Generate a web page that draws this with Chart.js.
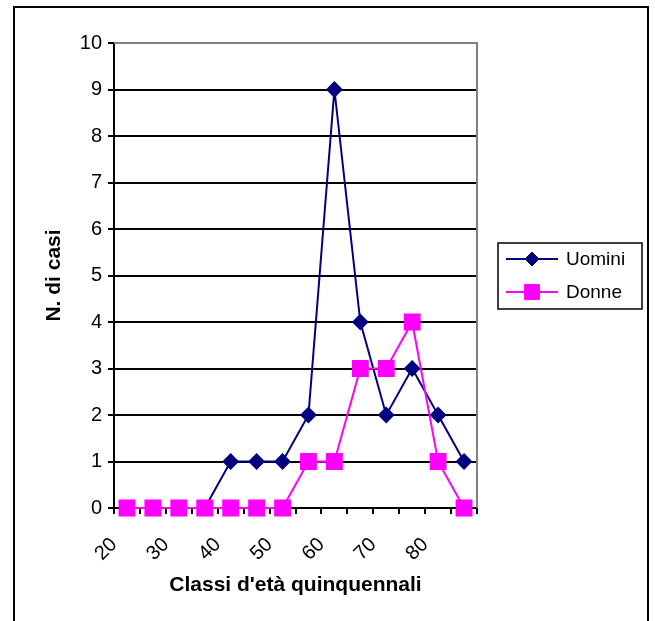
<!DOCTYPE html>
<html>
<head>
<meta charset="utf-8">
<script src="https://cdn.jsdelivr.net/npm/chart.js@4/dist/chart.umd.min.js"></script>
<style>
body{margin:0;background:#fff;}
canvas{display:block;}
</style>
</head>
<body>
<canvas id="chart" width="655" height="621"></canvas>
<script>
/* Data */

const classi=[22.5,27.5,32.5,37.5,42.5,47.5,52.5,57.5,62.5,67.5,72.5,77.5,82.5,87.5];

const uomini=[0,0,0,0,1,1,1,2,9,4,2,3,2,1];

const donne=[0,0,0,0,0,0,0,1,1,3,3,4,1,0];

const xLabels=[20,30,40,50,60,70,80];

const FONT="'Liberation Sans', Arial, sans-serif";

/* Frame, plot border and legend */

const decor={

id:"decor",

afterDraw(chart){

const ctx=chart.ctx;
const a=chart.chartArea;

ctx.save();

// gray plot border (top and right)
ctx.strokeStyle="#808080";
ctx.lineWidth=2;
ctx.beginPath();
ctx.moveTo(a.left,a.top);
ctx.lineTo(a.right,a.top);
ctx.lineTo(a.right,a.bottom);
ctx.stroke();

// outer frame
ctx.strokeStyle="#000";
ctx.lineWidth=2;
ctx.strokeRect(14,7,634,640);

// legend
ctx.lineWidth=1.5;
ctx.strokeRect(498,243,144,66);

const rows=[259,292];

chart.data.datasets.forEach((ds,i)=>{

const y=rows[i];

ctx.strokeStyle=ds.borderColor;
ctx.lineWidth=ds.borderWidth;
ctx.beginPath();
ctx.moveTo(506,y);
ctx.lineTo(558,y);
ctx.stroke();

ctx.fillStyle=ds.pointBackgroundColor;
ctx.strokeStyle=ds.pointBorderColor;
ctx.lineWidth=1;
Chart.helpers.drawPoint(ctx,{pointStyle:ds.pointStyle,radius:ds.pointRadius,borderWidth:1,rotation:0},532,y);

ctx.fillStyle="#000";
ctx.font="19px "+FONT;
ctx.textAlign="left";
ctx.textBaseline="middle";
ctx.fillText(ds.label,566,y+1);

});

ctx.restore();

}

};

/* Chart */

new Chart(document.getElementById("chart"),{

type:"line",

data:{

datasets:[

{
label:"Uomini",
data:classi.map((c,i)=>({x:c,y:uomini[i]})),
borderColor:"#000080",
backgroundColor:"#000080",
pointBackgroundColor:"#000080",
pointBorderColor:"#000080",
pointStyle:"rectRot",
pointRadius:7,
borderWidth:2,
tension:0,
clip:false,
order:1
},

{
label:"Donne",
data:classi.map((c,i)=>({x:c,y:donne[i]})),
borderColor:"#ff00ff",
backgroundColor:"#ff00ff",
pointBackgroundColor:"#ff00ff",
pointBorderColor:"#ff00ff",
pointStyle:"rect",
pointRadius:10.5,
borderWidth:2,
tension:0,
clip:false,
order:0
}

]

},

options:{

responsive:false,
animation:false,
devicePixelRatio:1,

layout:{padding:{top:43,right:178,left:0,bottom:0}},

plugins:{
legend:{display:false},
tooltip:{enabled:false}
},

scales:{

x:{
type:"linear",
min:20,
max:90,
afterFit:s=>{s.height=113;},
afterBuildTicks:s=>{
const t=[];
for(let v=20;v<=90;v+=5)t.push({value:v});
s.ticks=t;
},
grid:{drawOnChartArea:false,color:"#000",tickLength:6,lineWidth:2},
border:{color:"#000",width:2},
ticks:{
autoSkip:false,
minRotation:45,
maxRotation:45,
padding:19,
color:"#000",
font:{family:FONT,size:20},
callback:v=>xLabels.includes(v)?String(v):""
},
title:{
display:true,
text:"Classi d'età quinquennali",
color:"#000",
font:{family:FONT,size:21,weight:"bold"},
padding:{top:0,bottom:23}
}
},

y:{
min:0,
max:10,
afterFit:s=>{s.width=114;},
grid:{
color:c=>c.tick&&c.tick.value===10?"rgba(0,0,0,0)":"#000",
tickColor:"#000",
tickLength:6,
lineWidth:2
},
border:{color:"#000",width:2},
ticks:{
stepSize:1,
padding:6,
color:"#000",
font:{family:FONT,size:20}
},
title:{
display:true,
text:"N. di casi",
color:"#000",
font:{family:FONT,size:21,weight:"bold"},
padding:{top:42,bottom:0}
}
}

}

},

plugins:[decor]

});
</script>
</body>
</html>
